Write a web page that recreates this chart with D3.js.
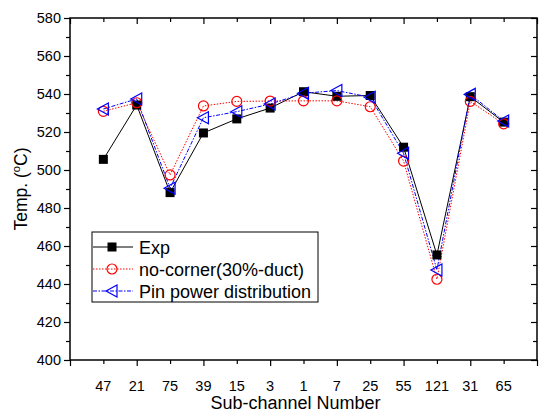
<!DOCTYPE html>
<html>
<head>
<meta charset="utf-8">
<script src="https://cdn.jsdelivr.net/npm/d3@7"></script>
<style>
  body { margin: 0; background: #fff; }
  text { font-family: "Liberation Sans", Arial, sans-serif; fill: #000; }
</style>
</head>
<body>
<div id="chart"></div>
<script>
// sub-channel numbers along the x axis
var channels = ["47", "21", "75", "39", "15", "3", "1", "7", "25", "55", "121", "31", "65"];
var expVals = [505.6, 534.2, 488.1, 519.5, 526.9, 532.6, 541.2, 538.8, 539.2, 512.0, 455.3, 538.6, 525.2];
var noCornerVals = [530.9, 535.4, 497.4, 533.7, 536.1, 536.3, 536.4, 536.4, 533.3, 504.7, 442.5, 536.1, 524.3];
var pinPowerVals = [532.1, 537.4, 490.4, 527.5, 530.7, 534.7, 540.4, 541.8, 538.3, 508.8, 447.4, 539.8, 525.8];
var yTicks = [400, 420, 440, 460, 480, 500, 520, 540, 560, 580];

const margin = ({ top: 18, right: 2, bottom: 53, left: 70 });
const width = 539, height = 413;
const plotW = width - margin.left - margin.right;
const plotH = height - margin.top - margin.bottom;

var svg = d3.select("#chart").append("svg")
    .attr("width", width)
    .attr("height", height);

var g = svg.append("g").attr("transform", `translate(${margin.left}, ${margin.top})`);

var x = d3.scaleLinear().domain([0, channels.length + 1]).range([0, plotW]);
var y = d3.scaleLinear().domain([400, 580]).range([plotH, 0]);

var majorX = d3.range(0, channels.length + 2, 2);
var minorX = d3.range(1, channels.length + 1, 2);
var minorY = d3.range(410, 580, 20);

// bottom axis - majors and minors drawn outward
g.append("g").attr("transform", `translate(0, ${plotH})`)
    .call(d3.axisBottom(x).tickValues(majorX).tickSize(6).tickFormat(""))
    .call(a => a.select(".domain").remove());
g.append("g").attr("transform", `translate(0, ${plotH})`)
    .call(d3.axisBottom(x).tickValues(minorX).tickSize(4).tickFormat(""))
    .call(a => a.select(".domain").remove());
// category labels
g.append("g").selectAll("text")
    .data(channels)
    .enter()
    .append("text")
    .attr("x", (d, i) => x(i + 1))
    .attr("y", plotH + 31)
    .attr("text-anchor", "middle")
    .style("font-size", "14.5px")
    .text(d => d);

// top axis ticks point inward
g.append("g")
    .call(d3.axisBottom(x).tickValues(majorX).tickSize(6).tickFormat(""))
    .call(a => a.select(".domain").remove());
g.append("g")
    .call(d3.axisBottom(x).tickValues(minorX).tickSize(4).tickFormat(""))
    .call(a => a.select(".domain").remove());

// left axis
g.append("g")
    .call(d3.axisLeft(y).tickValues(yTicks).tickSize(6).tickPadding(3))
    .call(a => a.select(".domain").remove())
    .call(a => a.selectAll("text").style("font-size", "14.5px"));
g.append("g")
    .call(d3.axisLeft(y).tickValues(minorY).tickSize(4).tickFormat(""))
    .call(a => a.select(".domain").remove());
// right axis, inward
g.append("g").attr("transform", `translate(${plotW}, 0)`)
    .call(d3.axisLeft(y).tickValues(yTicks).tickSize(6).tickFormat(""))
    .call(a => a.select(".domain").remove());
g.append("g").attr("transform", `translate(${plotW}, 0)`)
    .call(d3.axisLeft(y).tickValues(minorY).tickSize(4).tickFormat(""))
    .call(a => a.select(".domain").remove());

g.selectAll(".tick line").attr("stroke", "#000").attr("stroke-width", 1.2);

// frame
g.append("rect")
    .attr("width", plotW)
    .attr("height", plotH)
    .attr("fill", "none")
    .attr("stroke", "#000")
    .attr("stroke-width", 1.5);

var series = [
    { name: "Exp", vals: expVals, color: "#000", dash: null, marker: "square" },
    { name: "no-corner(30%-duct)", vals: noCornerVals, color: "#ff0000", dash: "1.5,1.5", marker: "circle" },
    { name: "Pin power distribution", vals: pinPowerVals, color: "#0000ff", dash: "4,1.5,1.5,1.5", marker: "triangle" }
];

var line = d3.line()
    .x((d, i) => x(i + 1))
    .y(d => y(d));

function drawMarker(sel, kind, color) {
    if (kind == "square") {
        sel.append("rect")
            .attr("x", -4.5).attr("y", -4.5)
            .attr("width", 9).attr("height", 9)
            .attr("fill", color);
    } else if (kind == "circle") {
        sel.append("circle")
            .attr("r", 5)
            .attr("fill", "none")
            .attr("stroke", color)
            .attr("stroke-width", 1.2);
    } else {
        sel.append("path")
            .attr("d", "M-6,0 L5,-6 L5,6 Z")
            .attr("fill", "none")
            .attr("stroke", color)
            .attr("stroke-width", 1.2);
    }
}

series.forEach(function(s) {
    g.append("path")
        .datum(s.vals)
        .attr("d", line)
        .attr("fill", "none")
        .attr("stroke", s.color)
        .attr("stroke-width", 1)
        .attr("stroke-dasharray", s.dash);
});

series.forEach(function(s) {
    var pts = g.selectAll(null)
        .data(s.vals)
        .enter()
        .append("g")
        .attr("transform", (d, i) => `translate(${x(i + 1)}, ${y(d)})`);
    drawMarker(pts, s.marker, s.color);
});

// legend
var legend = svg.append("g").attr("transform", "translate(92, 232)");
legend.append("rect")
    .attr("width", 226)
    .attr("height", 70)
    .attr("fill", "#fff")
    .attr("stroke", "#000")
    .attr("stroke-width", 1);

series.forEach(function(s, i) {
    var row = legend.append("g").attr("transform", `translate(0, ${15 + i * 22})`);
    row.append("line")
        .attr("x1", 1).attr("x2", 41)
        .attr("stroke", s.color)
        .attr("stroke-width", 1)
        .attr("stroke-dasharray", s.dash);
    var m = row.append("g").attr("transform", "translate(20, 0)");
    drawMarker(m, s.marker, s.color);
    row.append("text")
        .attr("x", 47)
        .attr("y", 6.5)
        .style("font-size", "18px")
        .text(s.name);
});

// axis titles
svg.append("text")
    .attr("x", margin.left + plotW / 2 - 8)
    .attr("y", 409)
    .attr("text-anchor", "middle")
    .style("font-size", "18px")
    .text("Sub-channel Number");

var yt = svg.append("text")
    .attr("transform", `translate(27, ${margin.top + plotH / 2}) rotate(-90)`)
    .attr("text-anchor", "middle")
    .style("font-size", "17.5px");
yt.append("tspan").text("Temp. (");
yt.append("tspan").attr("dy", -7).style("font-size", "11px").text("o");
yt.append("tspan").attr("dy", 7).text("C)");
</script>
</body>
</html>
